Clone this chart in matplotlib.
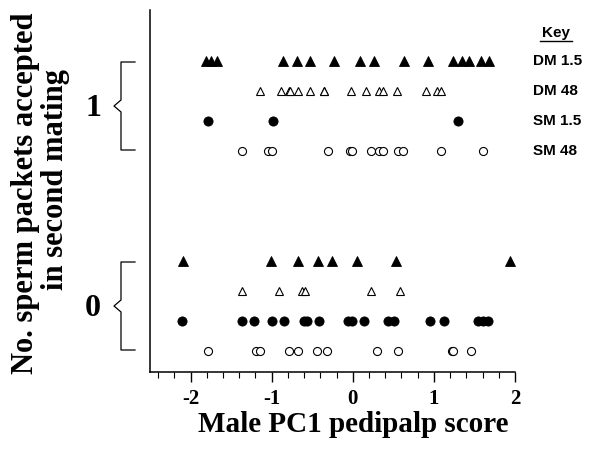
import matplotlib
matplotlib.use('Agg')
import matplotlib.pyplot as plt
from matplotlib.lines import Line2D
from matplotlib.ticker import MultipleLocator, FixedLocator

plt.rcParams['axes.unicode_minus'] = False

# ---- data (Male PC1 pedipalp score per male) ----
series_names = ['DM 1.5', 'DM 48', 'SM 1.5', 'SM 48']
group_labels = ['1', '0']
group_values = [1, 0]

g1_dm15 = [-1.81, -1.75, -1.67, -0.86, -0.69, -0.53, -0.23, 0.09, 0.26, 0.63,
           0.93, 1.23, 1.35, 1.43, 1.58, 1.68]
g1_dm48 = [-1.14, -0.89, -0.79, -0.77, -0.68, -0.53, -0.36, -0.35, -0.02, 0.16,
           0.32, 0.37, 0.54, 0.90, 1.04, 1.09]
g1_sm15 = [-1.78, -0.98, 1.30]
g1_sm48 = [-1.36, -1.05, -1.00, -0.30, -0.03, -0.01, 0.23, 0.32, 0.37, 0.56,
           0.62, 1.09, 1.60]

g0_dm15 = [-2.09, -1.01, -0.68, -0.43, -0.26, 0.05, 0.53, 1.94]
g0_dm48 = [-1.37, -0.91, -0.63, -0.59, 0.22, 0.58]
g0_sm15 = [-2.11, -1.36, -1.22, -1.00, -0.85, -0.60, -0.56, -0.42, -0.06, -0.01,
           0.14, 0.43, 0.51, 0.95, 1.12, 1.54, 1.60, 1.67]
g0_sm48 = [-1.79, -1.19, -1.14, -0.79, -0.67, -0.44, -0.32, 0.30, 0.56, 1.22,
           1.23, 1.46]

x_ticks = [-2, -1, 0, 1, 2]
x_ticklabels = ['-2', '-1', '0', '1', '2']

groups_data = {
    1: [g1_dm15, g1_dm48, g1_sm15, g1_sm48],
    0: [g0_dm15, g0_dm48, g0_sm15, g0_sm48],
}

# ---- styling ----
W, H = 590, 457
fig = plt.figure(figsize=(W / 100, H / 100), dpi=100)

def fx(px):
    return px / W

def fy(py):
    return 1 - py / H

ax_left, ax_right, ax_top, ax_bot = 150, 515, 10, 372
ax = fig.add_axes([fx(ax_left), fy(ax_bot), (ax_right - ax_left) / W, (ax_bot - ax_top) / H])

row_offsets = [0.225, 0.075, -0.075, -0.225]
styles = [
    dict(marker='^', ms=6.8, mfc='black', mec='black', mew=0.6),
    dict(marker='^', ms=5.6, mfc='white', mec='black', mew=0.8),
    dict(marker='o', ms=6.6, mfc='black', mec='black', mew=0.6),
    dict(marker='o', ms=5.8, mfc='white', mec='black', mew=0.8),
]

for g in group_values:
    for vals, off, st in zip(groups_data[g], row_offsets, styles):
        ax.plot(vals, [g + off] * len(vals), linestyle='none', clip_on=False, **st)

ax.set_xlim(-2.5, 2.0)
ax.set_ylim(-0.33, 1.48)
for s in ['top', 'right']:
    ax.spines[s].set_visible(False)
ax.spines['left'].set_linewidth(1.1)
ax.spines['bottom'].set_linewidth(1.1)
ax.set_yticks([])
ax.xaxis.set_major_locator(FixedLocator(x_ticks))
ax.set_xticklabels(x_ticklabels, fontfamily='Liberation Serif', fontweight='bold', fontsize=15)
ax.xaxis.set_minor_locator(MultipleLocator(0.2))
ax.tick_params(axis='x', which='major', length=7, width=1, direction='out', pad=5)
ax.tick_params(axis='x', which='minor', length=4, width=0.8, direction='out')

# x label
fig.text(fx(353), fy(425), 'Male PC1 pedipalp score', ha='center', va='center',
         fontfamily='Liberation Serif', fontweight='bold', fontsize=21)

# y label (two lines)
fig.text(fx(26), fy(193), 'No. sperm packets accepted', ha='center', va='center',
         rotation=90, fontfamily='Liberation Serif', fontweight='bold', fontsize=22)
fig.text(fx(55), fy(180), 'in second mating', ha='center', va='center',
         rotation=90, fontfamily='Liberation Serif', fontweight='bold', fontsize=22)

# group labels and braces
for lab, cy in zip(group_labels, [106, 306]):
    fig.text(fx(93), fy(cy + 2), lab, ha='center', va='center',
             fontfamily='Liberation Serif', fontweight='bold', fontsize=23)
    top, bot = cy - 44, cy + 44
    xs = [135, 121, 121, 114, 121, 121, 135]
    ys = [top, top, cy - 6, cy, cy + 6, bot, bot]
    fig.add_artist(Line2D([fx(v) for v in xs], [fy(v) for v in ys],
                          color='black', lw=0.9))

# key
fig.text(fx(556), fy(33), 'Key', ha='center', va='center',
         fontfamily='Liberation Sans', fontweight='bold', fontsize=11)
fig.add_artist(Line2D([fx(540), fx(572)], [fy(41), fy(41)], color='black', lw=1))
for name, py in zip(series_names, [61, 91, 121, 151]):
    fig.text(fx(533), fy(py), name, ha='left', va='center',
             fontfamily='Liberation Sans', fontweight='bold', fontsize=11)

fig.savefig('out.png', dpi=100)
